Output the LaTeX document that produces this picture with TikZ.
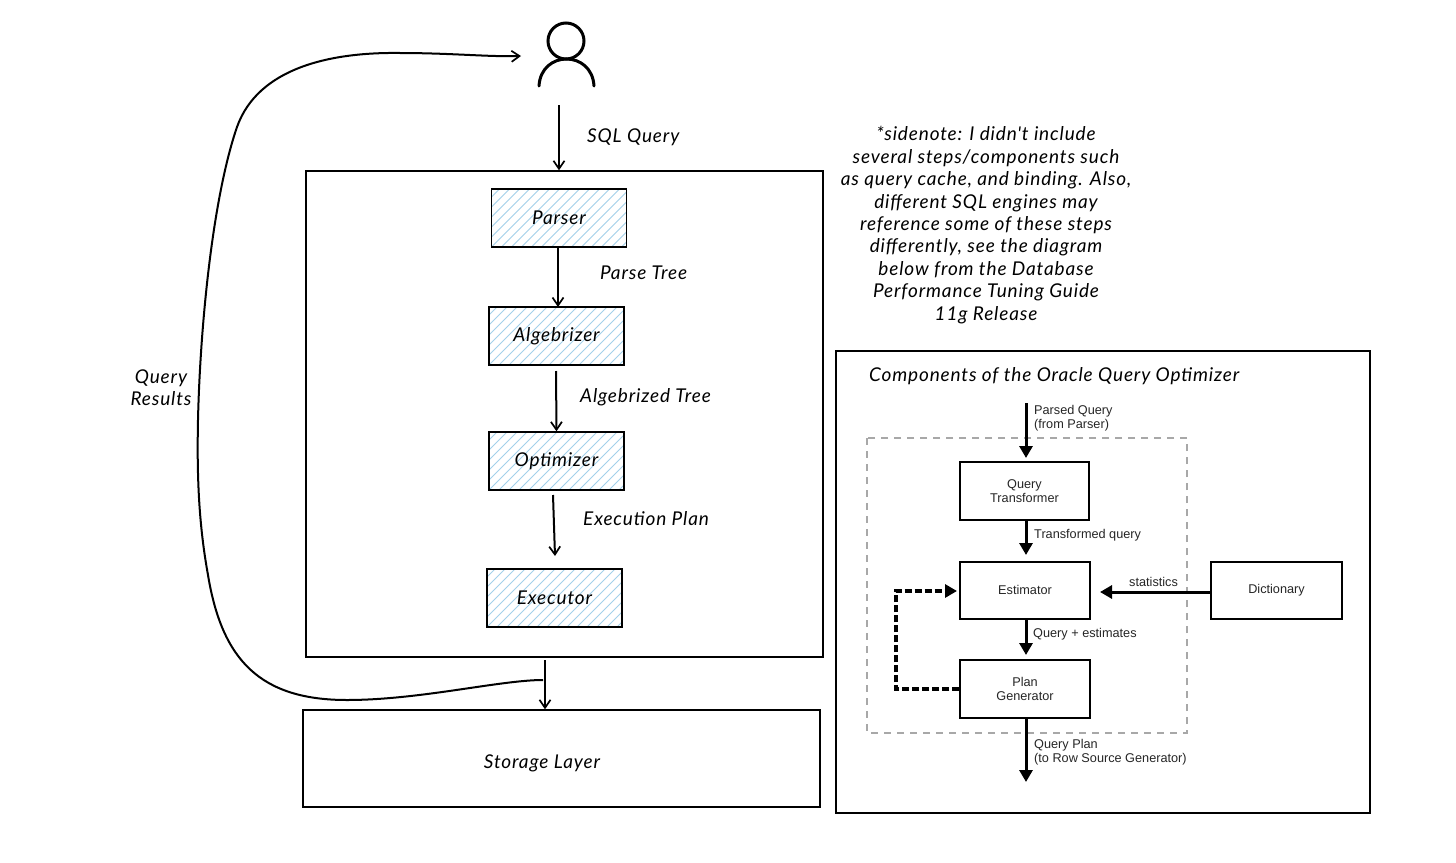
\documentclass[tikz,border=0pt]{standalone}
\usepackage{fontspec}
\setmainfont{Lato}
\newfontfamily\hand{Lato Italic}[LetterSpace=4.5]
\newfontfamily\plain{Liberation Sans}
\usetikzlibrary{arrows.meta}
\definecolor{hatchblue}{HTML}{A3D0EA}
\definecolor{dashgray}{HTML}{A8A8A8}
\tikzset{
  x=1pt,y=-1pt,
  handtext/.style={font=\hand\fontsize{19}{22}\selectfont,inner sep=0pt,align=center,text=black},
  oracletext/.style={font=\plain\fontsize{12.7}{14.5}\selectfont,inner sep=0pt,align=left,text=black!85},
  oraclebox/.style={draw=black,line width=1.2pt,fill=white,inner sep=0pt,font=\plain\fontsize{12.7}{14.5}\selectfont,align=center,text=black!85},
  bigbox/.style={draw=black,line width=1.4pt,inner sep=0pt},
  stepbox/.style={draw=black,line width=1.4pt,inner sep=0pt,minimum width=135pt,minimum height=58pt,
    font=\hand\fontsize{19}{22}\selectfont,
    path picture={\foreach \i in {-60,-50,...,140}{\draw[hatchblue,line width=.9pt]
      ([xshift=\i pt]path picture bounding box.south west) -- ++(62,-62);}}},
  flow/.style={draw=black,line width=2pt,-{Straight Barb[length=8pt,width=11pt,line width=1.7pt]}},
  heavy/.style={draw=black,line width=3pt,-{Triangle[length=12pt,width=13pt]},shorten >=0pt},
}
\begin{document}
\begin{tikzpicture}
\useasboundingbox (0,0) rectangle (1456,862);
\fill[white] (0,0) rectangle (1456,862);

% user
\node[circle,draw=black,line width=3pt,minimum size=36pt,inner sep=0pt] (head) at (566,41) {};
\draw[black,line width=3pt,line cap=round] (539,86) .. controls (541,50) and (592,50) .. (594,86);
\coordinate (userin) at (521,56);
\coordinate (userout) at (559,105);

% main boxes
\node[bigbox,minimum width=517pt,minimum height=486pt] (engine) at (564.5,414) {};
\node[bigbox,minimum width=517pt,minimum height=97pt] (storage) at (561.5,758.5) {};
\node[font=\hand\fontsize{19}{22}\selectfont,inner sep=0pt] (storagelabel) at (542,763) {Storage Layer};

\node[stepbox] (parser) at (559,218) {Parser};
\node[stepbox] (algebrizer) at (556.5,336) {Algebrizer};
\node[stepbox] (optimizer) at (556.5,461) {Optimizer};
\node[stepbox] (executor) at (554.5,598) {Executor};

\draw[flow] (userout) -- (userout |- engine.north);
\draw[flow] (parser.south) ++(-1,0) -- (558,307);
\draw[flow] (556,371) -- (algebrizer.south |- optimizer.north);
\draw[flow] (553,495) -- (555,556);
\coordinate (engineout) at (545,660);
\draw[flow] (engineout) -- (engineout |- storage.north);
\coordinate (curvestart) at (543,680);
\draw[flow] (curvestart) .. controls (500,680) and (420,700) .. (347,700)
  .. controls (260,700) and (222,660) .. (208,575)
  .. controls (198,520) and (197,470) .. (198,420)
  .. controls (200,330) and (212,200) .. (237,127)
  .. controls (258,68) and (330,52) .. (400,53)
  .. controls (450,53) and (490,57) .. (userin);

\node[handtext,anchor=west] (sqllabel) at (587,137) {SQL Query};
\node[handtext,anchor=west] (parsetree) at (600,273) {Parse Tree};
\node[handtext,anchor=west] (algtree) at (580,397) {Algebrized Tree};
\node[handtext,anchor=west] (execplan) at (583,519) {Execution Plan};
\node[handtext] (results) at (161,388) {Query\\Results};

\node[handtext,font=\hand\fontsize{19}{22.4}\selectfont] (sidenote) at (986,225) {*sidenote: I didn't include\\several steps/components such\\as query cache, and binding. Also,\\different SQL engines may\\reference some of these steps\\differently, see the diagram\\below from the Database\\Performance Tuning Guide\\11g Release};

% oracle panel
\node[bigbox,minimum width=534pt,minimum height=462pt] (panel) at (1103,582) {};
\node[handtext,anchor=west] (paneltitle) at (869,376) {Components of the Oracle Query Optimizer};
\draw[dashgray,line width=2.4pt,dash pattern=on 7pt off 6pt] (867,438) rectangle (1187,733);

\node[oraclebox,minimum width=129pt,minimum height=58pt] (transformer) at (1024.5,491) {Query\\Transformer};
\node[oraclebox,minimum width=130pt,minimum height=57pt] (estimator) at (1025,590.5) {\raisebox{1pt}{Estimator}};
\node[oraclebox,minimum width=130pt,minimum height=58pt] (plangen) at (1025,689) {Plan\\Generator};
\node[oraclebox,minimum width=131pt,minimum height=57pt] (dictionary) at (1276.5,590.5) {Dictionary};

\coordinate (parsedin) at (1026,403);
\coordinate (planout) at (1026,782);
\draw[heavy] (parsedin) -- (1026,458);
\draw[heavy] (1026,520) -- (1026,555);
\draw[heavy] (1026,619) -- (1026,655);
\draw[heavy] (1026,718) -- (planout);
\draw[heavy] (dictionary.west |- 0,592) -- (1100,592);
\draw[heavy,line width=3.5pt,dash pattern=on 7pt off 3pt] (plangen.west |- 0,689) -- (896,689) -- (896,591) -- (957,591);

\node[oracletext,anchor=west] (l1) at (1034,418) {Parsed Query\\(from Parser)};
\node[oracletext,anchor=west] (l2) at (1034,535.5) {Transformed query};
\node[oracletext,anchor=west] (l3) at (1033,634) {Query + estimates};
\node[oracletext,anchor=west] (l4) at (1129,582) {statistics};
\node[oracletext,anchor=west] (l5) at (1034,752) {Query Plan\\(to Row Source Generator)};
\end{tikzpicture}
\end{document}
